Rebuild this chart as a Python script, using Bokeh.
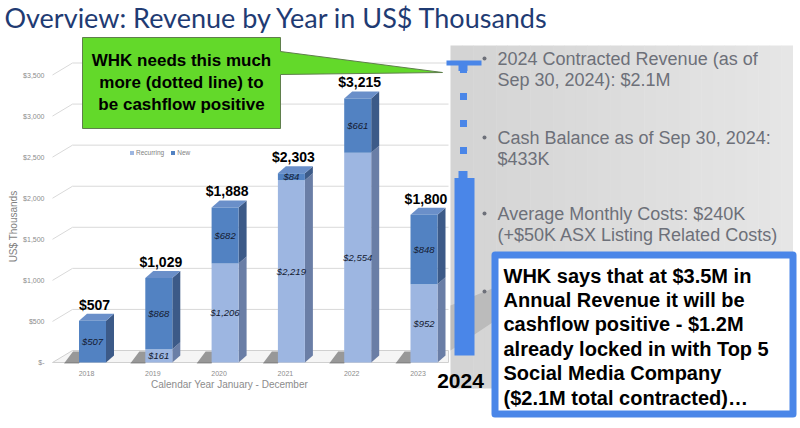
import math
from bokeh.plotting import figure
from bokeh.models import Range1d, ColumnDataSource, Legend, LegendItem
from bokeh.core.properties import value
from bokeh.embed import file_html
from bokeh.resources import INLINE

# ---------------- data ----------------
title_text = "Overview: Revenue by Year in US$ Thousands"
years = [2018, 2019, 2020, 2021, 2022, 2023]
recurring = [0, 161, 1206, 2219, 2554, 952]
new = [507, 868, 682, 84, 661, 848]
series_names = ["Recurring", "New"]
y_ticks = [0, 500, 1000, 1500, 2000, 2500, 3000, 3500]
y_tick_labels = ["$-", "$500", "$1,000", "$1,500", "$2,000", "$2,500", "$3,000", "$3,500"]
y_title = "US$ Thousands"
x_title = "Calendar Year January - December"
label_2024 = "2024"
contracted_2024 = 2100
breakeven_revenue = 3500
callout_lines = ["WHK needs this much", "more (dotted line) to", "be cashflow positive"]
bullet_lines = [["2024 Contracted Revenue (as of", "Sep 30, 2024):  $2.1M"],
                ["Cash Balance as of Sep 30, 2024:", "$433K"],
                ["Average Monthly Costs:  $240K", "(+$50K ASX Listing Related Costs)"]]
box_lines = ["WHK says that at $3.5M in", "Annual Revenue it will be",
             "cashflow positive - $1.2M", "already locked in with Top 5",
             "Social Media Company", "($2.1M total contracted)\u2026"]

totals = [r + n for r, n in zip(recurring, new)]


def money(v):
    return "${:,}".format(v)


# ---------------- layout / style ----------------
W, H = 800, 428
OFF = 0
X0S, DXY = 92.0, 66.3          # screen x of first year, px per year
Y0S, PPU = 362.0, 0.08214      # screen y of zero, px per unit
px_u = lambda px: px / PPU      # px -> value units
px_y = lambda px: px / DXY      # px -> year units

WALL = px_u(12)
BW = px_y(27)
BDX = px_y(8)
BDY = px_u(7)

NAVY = "#1F3B73"
GRID = "#D9D9D9"
TICK = "#8C8C8C"
REC_F, REC_S = "#9DB6E1", "#6A7EA6"
NEW_F, NEW_S, TOP = "#5282C2", "#3C5A88", "#6A8FC9"
BLUE = "#4A86E8"
SANS = value("Liberation Sans")

x_range = Range1d(years[0] - (X0S - OFF) / DXY, years[0] + (OFF + W - X0S) / DXY)
y_range = Range1d((Y0S - (OFF + H)) / PPU, (Y0S - OFF) / PPU)

p = figure(width=W, height=H, x_range=x_range, y_range=y_range,
           x_axis_type=None, y_axis_type=None, output_backend="svg",
           toolbar_location=None, min_border=0, outline_line_color=None)
p.extra_x_ranges = {"px": Range1d(OFF, OFF + W)}
p.extra_y_ranges = {"px": Range1d(OFF + H, OFF)}
p.background_fill_color = "white"

# ---------------- title ----------------
p.text(x=[4], y=[17], text=[title_text], x_range_name="px", y_range_name="px",
       text_font=value("Lato"), text_font_size="27px", text_color=NAVY,
       text_baseline="middle", text_align="left")

# ---------------- chart back wall & floor ----------------
p.patch(x=[52, 448, 448, 72], y=[0, 0, WALL, WALL], x_range_name="px",
        fill_color="#F5F5F5", line_color="#D0D0D0", line_width=1)
p.multi_line(xs=[[52, 72, 448] for _ in y_ticks[1:]],
             ys=[[v, v + WALL, v + WALL] for v in y_ticks[1:]],
             x_range_name="px", line_color=GRID, line_width=1)

p.text(x=[44] * len(y_ticks), y=y_ticks, text=y_tick_labels, x_range_name="px",
       text_align="right", text_baseline="middle", text_font=SANS,
       text_font_size="7px", text_color=TICK)
p.text(x=[13], y=[226], text=[y_title], angle=math.pi / 2, x_range_name="px",
       y_range_name="px", text_align="center", text_baseline="middle",
       text_font=SANS, text_font_size="10px", text_color="#7F7F7F")
p.text(x=years, y=[373] * len(years), text=[str(y) for y in years],
       y_range_name="px", x_offset=-6, text_align="center", text_baseline="middle",
       text_font=SANS, text_font_size="7px", text_color=TICK)
p.text(x=[229], y=[384], text=[x_title], x_range_name="px", y_range_name="px",
       text_align="center", text_baseline="middle", text_font=SANS,
       text_font_size="10px", text_color=TICK)

# ---------------- bars (3D look) ----------------
sh_xs, sh_ys = [], []
for x in years:
    xl = x - BW / 2
    sh_xs.append([xl - px_y(15), xl, xl + BDX * 0.6, xl - px_y(6)])
    sh_ys.append([-px_u(1), -px_u(1), BDY + px_u(4), BDY + px_u(4)])
p.patches(xs=sh_xs, ys=sh_ys, fill_color="#4A4A4A", fill_alpha=0.55, line_color=None)

side_xs, side_ys, side_c = [], [], []
for x, r, t in zip(years, recurring, totals):
    xr = x + BW / 2
    for b, tp, c in ((0, r, REC_S), (r, t, NEW_S)):
        if tp > b:
            side_xs.append([xr, xr + BDX, xr + BDX, xr])
            side_ys.append([b, b + BDY, tp + BDY, tp])
            side_c.append(c)
p.patches(xs=side_xs, ys=side_ys, fill_color=side_c, line_color=None)
p.patches(xs=[[x - BW / 2, x + BW / 2, x + BW / 2 + BDX, x - BW / 2 + BDX] for x in years],
          ys=[[t, t, t + BDY, t + BDY] for t in totals],
          fill_color=TOP, line_color=None)

src = ColumnDataSource(dict(x=years, rec=recurring, tot=totals))
r_rec = p.vbar(x="x", width=BW, bottom=0, top="rec", source=src,
               fill_color=REC_F, line_color=None)
r_new = p.vbar(x="x", width=BW, bottom="rec", top="tot", source=src,
               fill_color=NEW_F, line_color=None)

legend = Legend(items=[LegendItem(label=series_names[0], renderers=[r_rec]),
                       LegendItem(label=series_names[1], renderers=[r_new])],
                location=(129, 272), orientation="horizontal",
                background_fill_alpha=0, border_line_alpha=0, padding=0, margin=0,
                spacing=6, label_standoff=2, glyph_width=5, glyph_height=5,
                label_height=8, label_text_font_size="6.5px",
                label_text_color="#7F7F7F", label_text_font="Liberation Sans")
p.add_layout(legend)

seg_x, seg_y, seg_t = [], [], []
for x, r, n in zip(years, recurring, new):
    if r > 0:
        seg_x.append(x); seg_y.append(r / 2); seg_t.append(money(r))
    seg_x.append(x); seg_y.append(r + n / 2); seg_t.append(money(n))
p.text(x=seg_x, y=seg_y, text=seg_t, text_align="center", text_baseline="middle",
       text_font=SANS, text_font_style="italic", text_font_size="9.5px",
       text_color="#141a30")
p.text(x=years, y=totals, text=[money(t) for t in totals], x_offset=2, y_offset=-16,
       text_align="center", text_baseline="middle", text_font=SANS,
       text_font_style="bold", text_font_size="14px", text_color="black")

# ---------------- right panel ----------------
n_strip = 30
pl, pr, pt, pb = 450, 792, 45, 388
sw = (pr - pl) / n_strip
strip_l = [pl + i * sw for i in range(n_strip)]
strip_c = []
for i in range(n_strip):
    g = int(212 + 18 * i / (n_strip - 1))
    strip_c.append("#%02x%02x%02x" % (g, g, g))
p.quad(left=strip_l, right=[l + sw + 0.5 for l in strip_l], top=pt, bottom=pb,
       x_range_name="px", y_range_name="px", fill_color=strip_c, line_color=None)
p.patch(x=[450, 492, 492, 450], y=[305, 288, 322, 350], x_range_name="px",
        y_range_name="px", fill_color="#B4B4B4", fill_alpha=0.8, line_color=None)

bl_x, bl_y, bl_t, dots_y = [], [], [], []
for lines, y0 in zip(bullet_lines, [58, 137, 213]):
    dots_y.append(y0)
    for k, t in enumerate(lines):
        bl_x.append(497); bl_y.append(y0 + 21 * k); bl_t.append(t)
p.text(x=bl_x, y=bl_y, text=bl_t, x_range_name="px", y_range_name="px",
       text_align="left", text_baseline="middle", text_font=SANS,
       text_font_size="18px", text_color="#6D7079")
p.scatter(x=[484] * 4, y=dots_y + [291], x_range_name="px", y_range_name="px",
          size=4, fill_color="#6D7079", line_color=None)

# ---------------- 2024 dotted target line ----------------
top_v = breakeven_revenue + WALL
con_v = contracted_2024 + WALL
p.segment(x0=[463], x1=[463], y0=[top_v], y1=[con_v], x_range_name="px",
          line_color=BLUE, line_width=7, line_dash="7 20", line_dash_offset=24)
p.segment(x0=[446], x1=[481], y0=[top_v], y1=[top_v], x_range_name="px",
          line_color=BLUE, line_width=5)
p.segment(x0=[462.5], x1=[462.5], y0=[top_v], y1=[top_v - px_u(8)], x_range_name="px",
          line_color=BLUE, line_width=9)
p.segment(x0=[462.5], x1=[462.5], y0=[con_v], y1=[con_v + px_u(7)], x_range_name="px",
          line_color=BLUE, line_width=9)
p.vbar(x=[464], width=20, bottom=[BDY], top=[con_v], x_range_name="px",
       fill_color=BLUE, line_color=None)
p.text(x=[460], y=[380], text=[label_2024], x_range_name="px", y_range_name="px",
       text_align="center", text_baseline="middle", text_font=SANS,
       text_font_style="bold", text_font_size="21px", text_color="black")

# ---------------- green callout ----------------
p.patch(x=[82, 280, 280, 442, 280, 280, 82], y=[37, 37, 51, 72, 74, 128, 128],
        x_range_name="px", y_range_name="px", fill_color="#63D92A",
        line_color="#5F7F4C", line_width=1)
p.text(x=[181] * 3, y=[60, 82, 104], text=callout_lines, x_range_name="px",
       y_range_name="px", text_align="center", text_baseline="middle",
       text_font=SANS, text_font_style="bold", text_font_size="17px",
       text_color="black")

# ---------------- blue note box ----------------
p.quad(left=[494.5], right=[792.5], top=[254.5], bottom=[413.5], x_range_name="px",
       y_range_name="px", fill_color="white", line_color=BLUE, line_width=7,
       line_join="round")
p.text(x=[503] * len(box_lines), y=[275 + 24.4 * k for k in range(len(box_lines))],
       text=box_lines, x_range_name="px", y_range_name="px", text_align="left",
       text_baseline="middle", text_font=SANS, text_font_style="bold",
       text_font_size="20px", text_color="black")

open("out.html", "w").write(file_html(p, INLINE))
